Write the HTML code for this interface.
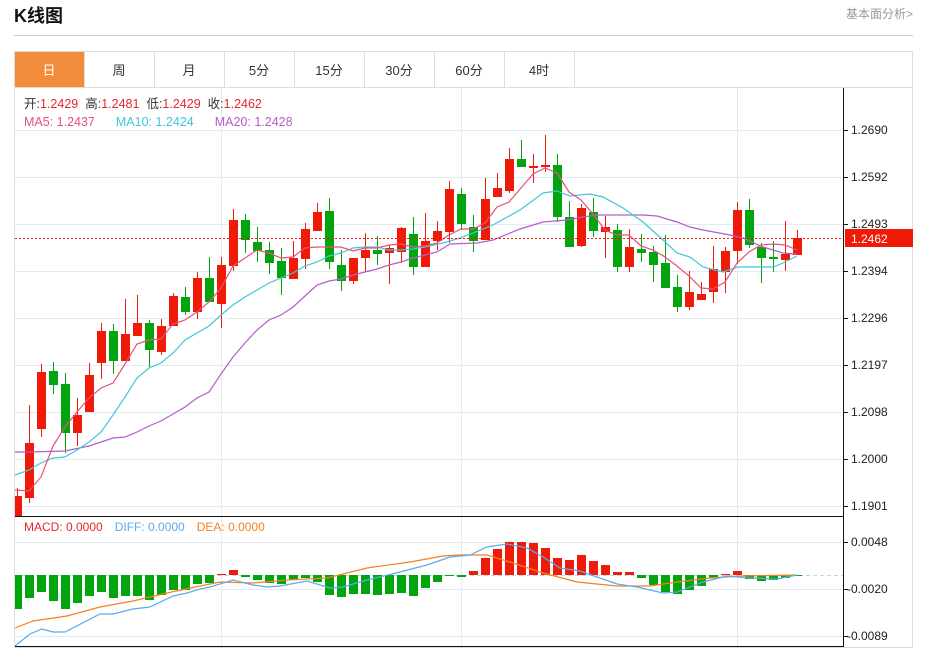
<!DOCTYPE html>
<html><head><meta charset="utf-8"><style>
body{margin:0;background:#fff;width:930px;height:649px;overflow:hidden;font-family:"Liberation Sans","Noto Sans CJK SC",sans-serif}
svg{position:absolute;left:0;top:0}
</style></head><body>
<svg id="s" width="930" height="649" viewBox="0 0 930 649" font-family="Liberation Sans, Noto Sans CJK SC, sans-serif">
<text x="14" y="22" font-size="18" font-weight="bold" fill="#111">K线图</text>
<text x="913" y="18" font-size="12" fill="#999" text-anchor="end">基本面分析&gt;</text>
<line x1="14" y1="35.5" x2="913" y2="35.5" stroke="#ccc"/>
<rect x="14.5" y="51.5" width="898" height="596" fill="none" stroke="#ddd"/>
<line x1="14" y1="87.5" x2="913" y2="87.5" stroke="#ddd"/>
<rect x="15" y="52" width="69" height="35" fill="#f28c3b"/>
<g stroke="#ddd"><line x1="84.5" y1="52" x2="84.5" y2="87"/><line x1="154.5" y1="52" x2="154.5" y2="87"/><line x1="224.5" y1="52" x2="224.5" y2="87"/><line x1="294.5" y1="52" x2="294.5" y2="87"/><line x1="364.5" y1="52" x2="364.5" y2="87"/><line x1="434.5" y1="52" x2="434.5" y2="87"/><line x1="504.5" y1="52" x2="504.5" y2="87"/><line x1="574.5" y1="52" x2="574.5" y2="87"/></g>
<g font-size="13" fill="#333" text-anchor="middle">
<text x="49" y="75" fill="#fff">日</text><text x="119" y="75">周</text><text x="189" y="75">月</text><text x="259" y="75">5分</text><text x="329" y="75">15分</text><text x="399" y="75">30分</text><text x="469" y="75">60分</text><text x="539" y="75">4时</text></g>
<g id="grid" stroke="#e3ebf2"></g>
<g id="c"></g>
<line x1="15" y1="238.5" x2="843" y2="238.5" stroke="#f01a08" stroke-dasharray="2,2"/>
<line x1="15" y1="575.5" x2="843" y2="575.5" stroke="#b8d8ee" stroke-dasharray="4,3"/>
<g id="m"></g>
<line x1="15" y1="516.5" x2="843" y2="516.5" stroke="#111"/>
<line x1="15" y1="646.5" x2="843" y2="646.5" stroke="#111"/>
<line x1="843.5" y1="88" x2="843.5" y2="647" stroke="#111"/>
<g font-size="12" fill="#222" id="ax">
<text x="851" y="134">1.2690</text><text x="851" y="181">1.2592</text><text x="851" y="228">1.2493</text><text x="851" y="275">1.2394</text><text x="851" y="322">1.2296</text><text x="851" y="369">1.2197</text><text x="851" y="416">1.2098</text><text x="851" y="463">1.2000</text><text x="851" y="510">1.1901</text>
<text x="851" y="546">0.0048</text><text x="847" y="593">-0.0020</text><text x="847" y="640">-0.0089</text>
</g>
<rect x="845" y="229" width="68" height="18" fill="#f01a08"/>
<text x="851" y="243" font-size="12" fill="#fff">1.2462</text>
<g font-size="12.5">
<text x="24" y="108" fill="#333">开:<tspan fill="#e8262b">1.2429</tspan><tspan fill="#333" dx="7">高:</tspan><tspan fill="#e8262b">1.2481</tspan><tspan fill="#333" dx="7">低:</tspan><tspan fill="#e8262b">1.2429</tspan><tspan fill="#333" dx="7">收:</tspan><tspan fill="#e8262b">1.2462</tspan></text>
<text x="24" y="126" fill="#e8507a">MA5: 1.2437<tspan fill="#3ec8d8" dx="21">MA10: 1.2424</tspan><tspan fill="#b45dc9" dx="21">MA20: 1.2428</tspan></text>
<text x="24" y="531" fill="#e8262b" font-size="12">MACD: 0.0000<tspan fill="#5aabf0" dx="12">DIFF: 0.0000</tspan><tspan fill="#f7801e" dx="12">DEA: 0.0000</tspan></text>
</g>
</svg>
<script>
var NS="http://www.w3.org/2000/svg";
function el(p,t,a){var e=document.createElementNS(NS,t);for(var k in a)e.setAttribute(k,a[k]);document.getElementById(p).appendChild(e);return e;}
[130,177,224,271,318,365,412,459,506,542,589,636].forEach(function(y){el("grid","line",{x1:15,x2:843,y1:y+.5,y2:y+.5});});
[221,461,737].forEach(function(x){el("grid","line",{x1:x+.5,x2:x+.5,y1:88,y2:646});});
[130,177,224,271,318,365,412,459,506,542,589,636].forEach(function(y){el("ax","line",{x1:843,x2:848,y1:y+.5,y2:y+.5,stroke:"#111"});});
var K=[[496,516,488,516,1],[443,498,405,503,1],[372,429,364,437,1],[371,385,362,394,0],[384,433,373,453,0],[415,433,398,446,1],[375,412,363,412,1],[331,363,323,379,1],[331,361,324,374,0],[334,361,299,361,1],[323,336,295,336,1],[323,350,320,367,0],[326,352,319,355,1],[296,326,293,326,1],[297,312,287,315,0],[278,312,272,319,1],[278,302,257,302,0],[265,304,257,328,1],[220,266,209,271,1],[220,240,214,253,0],[242,251,227,262,0],[250,263,242,274,0],[261,278,248,295,0],[258,279,241,279,1],[229,259,223,269,1],[212,231,203,231,1],[211,262,198,269,0],[265,281,250,291,0],[258,281,258,284,1],[250,258,233,272,1],[250,254,236,265,0],[248,253,245,284,1],[228,252,227,263,1],[234,267,217,275,0],[241,267,213,267,1],[231,241,221,250,1],[189,232,181,243,1],[194,224,188,230,0],[227,241,215,252,0],[199,240,178,240,1],[188,197,173,197,1],[159,191,148,193,1],[159,167,140,167,0],[166,167,154,183,1],[165,167,135,172,1],[165,217,154,222,0],[217,247,201,247,0],[208,246,204,247,1],[212,231,198,237,0],[227,232,216,258,1],[230,267,224,272,0],[247,267,229,272,1],[249,253,234,262,0],[252,265,246,282,0],[263,288,235,288,0],[287,307,275,312,0],[292,307,271,310,1],[294,300,282,300,1],[269,292,246,303,1],[251,272,247,293,1],[210,251,202,264,1],[210,245,199,248,0],[247,258,243,283,0],[257,259,241,272,0],[254,260,221,271,1],[238,255,230,255,1]];
K.forEach(function(k,i){var x=17+12*i,c=k[4]?"#f01a08":"#03a50f";
el("c","line",{x1:x+.5,x2:x+.5,y1:k[2],y2:k[3],stroke:c});
var x0=Math.max(15,x-4);el("c","rect",{x:x0,y:k[0],width:x+5-x0,height:Math.max(2,k[1]-k[0]),fill:c});});
function pl(p,pts,c){el(p,"polyline",{points:pts,fill:"none",stroke:c,"stroke-width":1.2});}
pl("c","15,452 29,452 65,451 89,446 113,438 125,437 137,432 149,426 161,421 173,414 185,407 197,398 209,392 221,374 233,357 245,343 257,330 269,320 281,315 293,307 305,296 317,285 329,281 341,279 353,275 365,272 377,269 389,265 401,262 413,258 437,252 450,244 477,243 493,240 520,229 543,222 567,220 583,217 597,215 643,215 657,216 677,222 690,227 703,230 730,235 743,238 763,247 783,253 797,254","#b45dc9");
pl("c","15,475 29,470 41,463 53,458 65,457 77,450 89,442 101,432 113,415 125,397 137,378 149,368 161,363 173,353 185,340 197,333 209,326 221,315 233,305 245,297 257,290 269,283 281,278 293,273 305,266 317,262 329,256 341,253 353,248 365,247 377,247 389,250 401,250 413,249 425,247 443,243 460,238 493,225 520,210 543,193 557,191 570,196 590,194 603,197 623,208 643,222 663,240 677,253 690,257 703,267 723,272 737,267 773,267 783,263 797,256","#3ec8d8");
pl("c","15,490 29,491 41,477 53,446 65,427 77,412 89,398 101,388 113,383 125,364 137,344 149,340 161,339 173,324 185,320 197,312 209,302 221,288 233,266 245,258 257,250 269,253 281,258 293,257 305,248 317,247 329,247 341,247 353,251 365,248 377,248 389,245 401,244 413,247 425,246 437,243 449,235 461,229 473,229 485,223 497,207 509,202 521,188 533,174 545,168 557,173 569,192 581,200 593,214 605,230 617,235 629,235 641,246 653,250 665,257 677,266 689,276 701,288 713,289 725,282 737,263 749,252 761,245 773,244 785,245 797,250","#e8507a");
var M=[609,598,592,601,609,603,596,592,598,596,596,600,595,590,590,584,583,574,570,577,580,583,584,580,578,582,595,597,594,594,595,594,593,596,588,582,576,577,571,558,549,542,542,543,548,558,560,555,561,565,572,572,578,585,592,594,590,586,578,574,571,579,581,580,578,576];
M.forEach(function(y,i){var x=17+12*i,x0=Math.max(15,x-4),up=y<575;
el("m","rect",{x:x0,y:up?y:575,width:x+5-x0,height:Math.max(1,Math.abs(y-575)),fill:up?"#f01a08":"#03a50f"});});
pl("m","15,628 33,621 67,616 100,607 133,601 167,593 200,586 220,582 253,583 287,580 327,578 367,568 410,562 443,556 460,555 487,555 510,562 543,573 577,582 617,586 650,586 677,582 710,578 743,576 797,575","#f7801e");
pl("m","15,646 30,634 42,629 53,632 65,632 100,614 113,614 133,609 150,607 173,596 187,593 200,589 210,587 233,580 253,585 267,587 280,586 307,581 330,588 343,587 367,580 400,572 427,565 450,557 470,555 487,547 507,544 527,548 543,557 560,568 580,571 617,584 637,587 663,593 677,592 703,582 727,576 750,578 777,579 797,575","#5aabf0");
</script>
</body></html>
